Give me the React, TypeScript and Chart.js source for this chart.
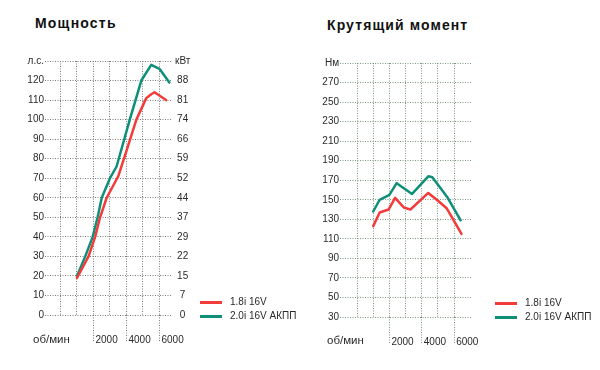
import React, { useEffect, useRef } from "react";
import { Chart, registerables } from "chart.js";

Chart.register(...registerables);

const FONT = '"Liberation Sans", Arial, Helvetica, sans-serif';
const TEXT = "#2a2a2a";
const RED = "#f23b3b";
const GREEN = "#0f8f78";

const seriesNames = ["1.8i 16V", "2.0i 16V АКПП"];

// shared rpm axis
const rpmTicks = [0, 1000, 2000, 3000, 4000, 5000, 6000];
const rpmLabels = ["", "", "2000", "", "4000", "", "6000"];

// power chart
const hpTicks = [0, 10, 20, 30, 40, 50, 60, 70, 80, 90, 100, 110, 120, 130];
const hpLabels = ["0", "10", "20", "30", "40", "50", "60", "70", "80", "90", "100", "110", "120", "л.с."];
const kwLabels = ["0", "7", "15", "22", "29", "37", "44", "52", "59", "66", "74", "81", "88", "кВт"];

const power18Rpm = [1000, 1700, 2100, 2400, 2800, 3500, 4000, 4600, 5200, 5500, 5700, 6400];
const power18Hp = [19, 30, 40, 50, 60, 71, 84, 100, 111, 113, 114, 110];
const power20Rpm = [1000, 1500, 1950, 2250, 2500, 3000, 3400, 4200, 4900, 5500, 6000, 6600];
const power20Hp = [20, 30, 40, 50, 60, 70, 76, 100, 120, 128, 126, 119];

// torque chart
const nmTicks = [30, 50, 70, 90, 110, 130, 150, 170, 190, 210, 230, 250, 270, 290];
const nmLabels = ["30", "50", "70", "90", "110", "130", "150", "170", "190", "210", "230", "250", "270", "Нм"];

const torque18Rpm = [1000, 1400, 1950, 2350, 2900, 3300, 4400, 5000, 5550, 6450];
const torque18Nm = [123, 137, 140, 152, 142, 140, 157, 149, 141, 115];
const torque20Rpm = [1000, 1400, 2000, 2450, 3400, 4400, 4650, 5150, 5600, 6400];
const torque20Nm = [138, 150, 155, 167, 156, 174, 173, 162, 152, 129];

type Cfg = {
  series: { label: string; color: string; xs: number[]; ys: number[] }[];
  xMin: number;
  xMax: number;
  yTicks: number[];
  yLabels: string[];
  y2Labels?: string[];
  padTop: number;
  padRight: number;
  yWidth: number;
  y2Width: number;
  xHeight: number;
  gridColor: string;
};

function buildConfig(c: Cfg): any {
  const tickFont = { family: FONT, size: 10 };
  const dash = [1, 1.5];
  const scales: any = {
    x: {
      type: "linear",
      min: c.xMin,
      max: c.xMax,
      afterBuildTicks: (axis: any) => {
        axis.ticks = rpmTicks.map((v) => ({ value: v }));
      },
      afterFit: (axis: any) => {
        axis.height = c.xHeight;
      },
      ticks: {
        autoSkip: false,
        maxRotation: 0,
        minRotation: 0,
        align: "start",
        labelOffset: 2,
        padding: -8,
        color: TEXT,
        font: tickFont,
        callback: (_v: any, i: number) => rpmLabels[i],
      },
      grid: {
        color: c.gridColor,
        lineWidth: 1,
        drawTicks: true,
        tickLength: 27,
        tickWidth: 1,
        tickColor: (ctx: any) => (rpmLabels[ctx.index] ? c.gridColor : "rgba(0,0,0,0)"),
        tickBorderDash: dash,
      },
      border: { display: false, dash },
    },
    y: {
      type: "linear",
      position: "left",
      min: c.yTicks[0],
      max: c.yTicks[c.yTicks.length - 1],
      afterBuildTicks: (axis: any) => {
        axis.ticks = c.yTicks.map((v) => ({ value: v }));
      },
      afterFit: (axis: any) => {
        axis.width = c.yWidth;
      },
      ticks: {
        padding: 1,
        color: TEXT,
        font: tickFont,
        callback: (_v: any, i: number) => c.yLabels[i],
      },
      grid: { color: c.gridColor, lineWidth: 1, drawTicks: false },
      border: { display: false, dash },
    },
  };
  if (c.y2Labels) {
    const labels = c.y2Labels;
    scales.y2 = {
      type: "linear",
      position: "right",
      min: c.yTicks[0],
      max: c.yTicks[c.yTicks.length - 1],
      afterBuildTicks: (axis: any) => {
        axis.ticks = c.yTicks.map((v) => ({ value: v }));
      },
      afterFit: (axis: any) => {
        axis.width = c.y2Width;
      },
      ticks: {
        padding: 3,
        crossAlign: "center",
        color: TEXT,
        font: tickFont,
        callback: (_v: any, i: number) => labels[i],
      },
      grid: { display: false, drawTicks: false },
      border: { display: false },
    };
  }
  return {
    type: "line",
    data: {
      datasets: c.series.map((s) => ({
        label: s.label,
        data: s.xs.map((x, i) => ({ x, y: s.ys[i] })),
        borderColor: s.color,
        backgroundColor: s.color,
        borderWidth: 2.5,
        pointRadius: 0,
        tension: 0,
        borderCapStyle: "round",
        borderJoinStyle: "round",
        fill: false,
      })),
    },
    options: {
      responsive: false,
      animation: false,
      devicePixelRatio: 1,
      layout: { padding: { left: 0, top: c.padTop, right: c.padRight, bottom: 0 } },
      plugins: { legend: { display: false }, tooltip: { enabled: false }, title: { display: false } },
      scales,
    },
  };
}

function ChartCanvas({ cfg, left }: { cfg: Cfg; left: number }) {
  const ref = useRef<HTMLCanvasElement>(null);
  useEffect(() => {
    const chart = new Chart(ref.current as HTMLCanvasElement, buildConfig(cfg));
    return () => chart.destroy();
  }, []);
  return (
    <canvas
      ref={ref}
      width={300}
      height={370}
      style={{ position: "absolute", left, top: 0, width: 300, height: 370 }}
    />
  );
}

function Text({ x, top, size, bold, children, spacing }: any) {
  return (
    <div
      style={{
        position: "absolute",
        left: x,
        top,
        fontFamily: FONT,
        fontSize: size,
        fontWeight: bold ? 700 : 400,
        lineHeight: `${Math.round(size + 2)}px`,
        letterSpacing: spacing ? `${spacing}px` : undefined,
        color: bold ? "#111" : TEXT,
        whiteSpace: "pre",
      }}
    >
      {children}
    </div>
  );
}

function Legend({ x, y }: { x: number; y: number }) {
  const colors = [RED, GREEN];
  return (
    <>
      {seriesNames.map((name, i) => (
        <React.Fragment key={name}>
          <div
            style={{
              position: "absolute",
              left: x,
              top: y + i * 14 - 1.5,
              width: 22,
              height: 3,
              background: colors[i],
            }}
          />
          <Text x={x + 30} top={y + i * 14 - 6} size={10}>
            {name}
          </Text>
        </React.Fragment>
      ))}
    </>
  );
}

const powerCfg: Cfg = {
  series: [
    { label: seriesNames[0], color: RED, xs: power18Rpm, ys: power18Hp },
    { label: seriesNames[1], color: GREEN, xs: power20Rpm, ys: power20Hp },
  ],
  xMin: -940,
  xMax: 6760,
  yTicks: hpTicks,
  yLabels: hpLabels,
  y2Labels: kwLabels,
  padTop: 61,
  padRight: 103,
  yWidth: 45,
  y2Width: 25,
  xHeight: 55,
  gridColor: "#7a7a7a",
};

const torqueCfg: Cfg = {
  series: [
    { label: seriesNames[0], color: RED, xs: torque18Rpm, ys: torque18Nm },
    { label: seriesNames[1], color: GREEN, xs: torque20Rpm, ys: torque20Nm },
  ],
  xMin: -1050,
  xMax: 7100,
  yTicks: nmTicks,
  yLabels: nmLabels,
  padTop: 63,
  padRight: 128,
  yWidth: 40,
  y2Width: 0,
  xHeight: 53,
  gridColor: "#76987e",
};

export default function App() {
  return (
    <div
      style={{
        position: "absolute",
        left: 0,
        top: 0,
        width: 600,
        height: 370,
        background: "#fff",
        overflow: "hidden",
      }}
    >
      <Text x={35} top={15} size={14} bold spacing={1.2}>
        Мощность
      </Text>
      <Text x={327} top={17} size={14} bold spacing={1.1}>
        Крутящий момент
      </Text>
      <ChartCanvas cfg={powerCfg} left={0} />
      <ChartCanvas cfg={torqueCfg} left={300} />
      <Text x={33} top={332} size={11.5}>
        об/мин
      </Text>
      <Text x={327} top={333} size={11.5}>
        об/мин
      </Text>
      <Legend x={200} y={302} />
      <Legend x={495} y={303} />
    </div>
  );
}
